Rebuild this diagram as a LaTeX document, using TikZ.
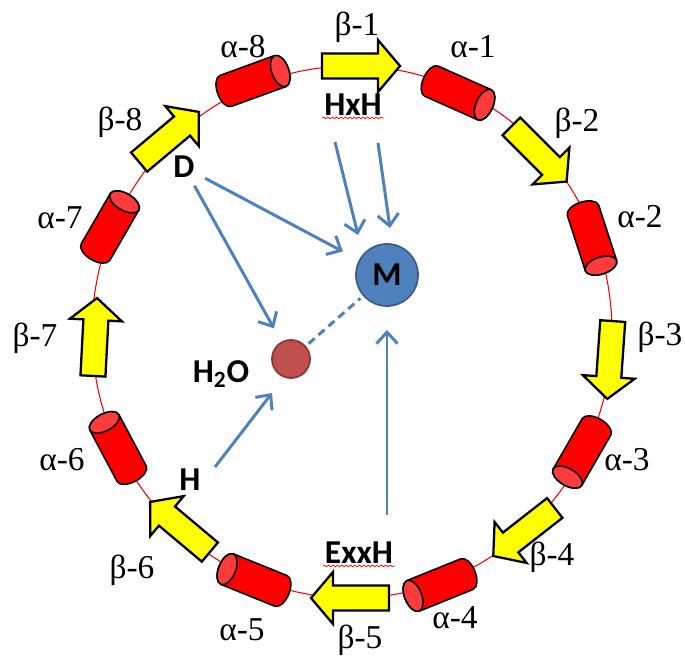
\documentclass[tikz,border=0pt]{standalone}
\usepackage{fontspec}
\setmainfont{Liberation Serif}
\newfontfamily\calfont{Carlito}
\usetikzlibrary{arrows.meta,calc,decorations.pathmorphing}

\definecolor{helixred}{HTML}{FF0000}
\definecolor{helixcap}{HTML}{FF3B3B}
\definecolor{strandyellow}{HTML}{FFFF00}
\definecolor{linkblue}{HTML}{4F81BD}
\definecolor{metalrim}{HTML}{385D8A}
\definecolor{waterred}{HTML}{C0504D}
\definecolor{waterrim}{HTML}{8C3836}

\newcommand*{\rx}{260}
\newcommand*{\ry}{266}

\begin{document}
\begin{tikzpicture}
[
	x=0.02cm, y=0.02cm,
	lbl/.style={font=\fontsize{19}{21}\selectfont,inner sep=1pt},
	boldlbl/.style={font=\calfont\bfseries\fontsize{19}{22}\selectfont,inner sep=1pt},
	link/.style={linkblue,line width=1.7pt,-{Straight Barb[length=6.5pt,width=12pt]}},
	squiggle/.style={red,line width=0.4pt,decorate,decoration={snake,amplitude=0.5pt,segment length=2.5pt}},
	metal/.style={circle,fill=linkblue,draw=metalrim,line width=1pt,minimum size=1.24cm,inner sep=0pt},
	waterpt/.style={circle,fill=waterred,draw=waterrim,line width=1pt,minimum size=0.76cm,inner sep=0pt},
	helix/.pic={
		\filldraw[fill=helixred,draw=black,line width=0.9pt] (-29,-16.5) arc[start angle=270,end angle=90,x radius=8.5,y radius=16.5] -- (29,16.5) arc[start angle=90,end angle=-90,x radius=8.5,y radius=16.5] -- cycle;
		\filldraw[fill=helixcap,draw=black,line width=0.9pt] (29,0) ellipse[x radius=8.5,y radius=16.5];
	},
	strand/.pic={
		\filldraw[fill=strandyellow,draw=black,line width=1.3pt,line join=miter] (-39,-12.5) -- (17,-12.5) -- (17,-26) -- (39,0) -- (17,26) -- (17,12.5) -- (-39,12.5) -- cycle;
	}
]

	\useasboundingbox (-352,-326) rectangle (333,332);

	% backbone
	\draw[red,line width=0.6pt] (0,0) ellipse[x radius=\rx,y radius=\ry];

	% strands
	\pic[rotate=0] at (9,266) {strand};
	\pic[rotate=-45] at (187,178) {strand};
	\pic[rotate=-94] at (258,-28) {strand};
	\pic[rotate=-142] at (172,-200) {strand};
	\pic[rotate=180] at (-2,-266) {strand};
	\pic[rotate=140] at (-172,-195) {strand};
	\pic[rotate=87] at (-257,-5) {strand};
	\pic[rotate=40] at (-183,195) {strand};

	% helices
	\pic[rotate=-24] at (106,239) {helix};
	\pic[rotate=-72] at (240,94) {helix};
	\pic[rotate=-120] at (230,-120) {helix};
	\pic[rotate=-158] at (88,-253) {helix};
	\pic[rotate=158] at (-98,-248) {helix};
	\pic[rotate=118] at (-234,-116) {helix};
	\pic[rotate=60] at (-242,105) {helix};
	\pic[rotate=20] at (-99,251) {helix};

	% labels
	\node[lbl] (b1) at (5,305) {β-1};
	\node[lbl] (a1) at (121,285) {α-1};
	\node[lbl] (b2) at (225,209) {β-2};
	\node[lbl] (a2) at (288,115) {α-2};
	\node[lbl] (b3) at (308,-5) {β-3};
	\node[lbl] (a3) at (275,-128) {α-3};
	\node[lbl] (b4) at (200,-225) {β-4};
	\node[lbl] (a4) at (103,-286) {α-4};
	\node[lbl] (b5) at (8,-308) {β-5};
	\node[lbl] (a5) at (-110,-298) {α-5};
	\node[lbl] (b6) at (-220,-238) {β-6};
	\node[lbl] (a6) at (-290,-128) {α-6};
	\node[lbl] (b7) at (-317,-6) {β-7};
	\node[lbl] (a7) at (-292,114) {α-7};
	\node[lbl] (b8) at (-232,210) {β-8};
	\node[lbl] (a8) at (-109,285) {α-8};

	% ligands
	\node[boldlbl] (HxH) at (1,227) {HxH};
	\node[boldlbl] (ExxH) at (7,-221) {ExxH};
	\node[boldlbl] (D) at (-168,165) {D};
	\node[boldlbl] (H) at (-162,-148) {H};
	\draw[squiggle] (HxH.south west) -- (HxH.south east);
	\draw[squiggle] (ExxH.south west) -- (ExxH.south east);

	% metal and water
	\node[metal,font=\calfont\bfseries\fontsize{19}{22}\selectfont] (M) at (35,57) {M};
	\node[waterpt] (water) at (-61,-27) {};
	\node[boldlbl] (h2o) at (-131,-42) {H\textsubscript{2}O};

	% contacts
	\draw[link] ($(D)!0.48cm!(M)$) -- ($(M)!1cm!(D)$);
	\draw[link] ($(D)!0.43cm!(water)$) -- ($(water)!0.7cm!(D)$);
	\draw[link] ($(HxH)+(-18,-37)$) -- ($(M)+(-29,40)$);
	\draw[link] ($(HxH)+(25,-38)$) -- ($(M)+(3,47)$);
	\draw[link] ($(ExxH)+(28,38)$) -- ($(M)+(0,-55)$);
	\draw[link] ($(H)+(25,13)$) -- ($(water)+(-19,-34)$);
	\draw[linkblue,line width=1.7pt,dash pattern=on 4.5pt off 3pt,shorten <=2pt,shorten >=2pt] (water) -- (M);

\end{tikzpicture}
\end{document}
